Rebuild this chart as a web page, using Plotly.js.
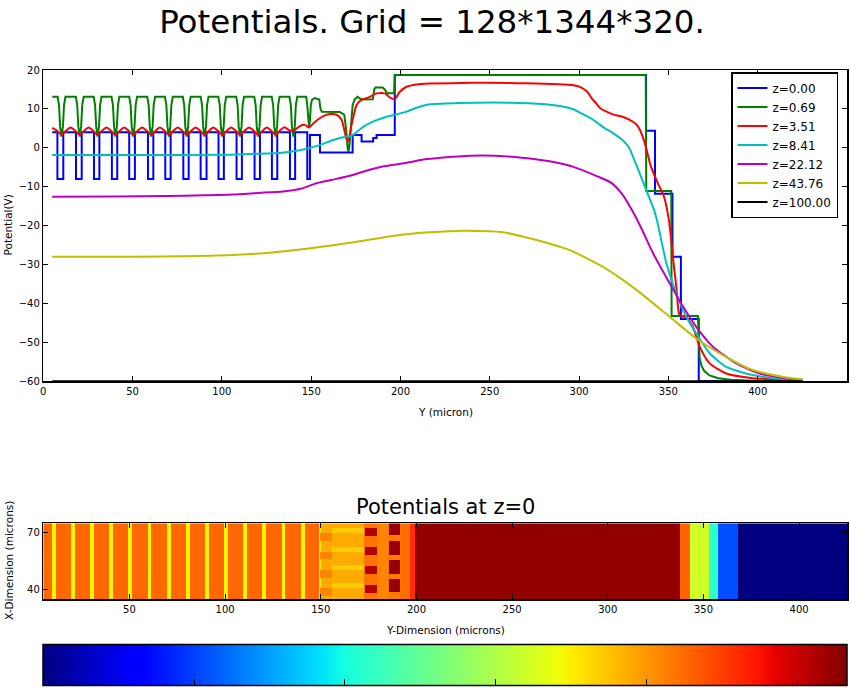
<!DOCTYPE html>
<html><head><meta charset="utf-8">
<script src="https://cdn.plot.ly/plotly-3.0.1.min.js"></script>
<style>html,body{margin:0;padding:0;background:#fff}#chart{width:851px;height:691px}</style>
</head><body><div id="chart"></div><script>
// ---------------- Line data (potential vs Y, micron) ----------------
const seriesNames = ['z=0.00','z=0.69','z=3.51','z=8.41','z=22.12','z=43.76','z=100.00'];
const seriesColors = ['#0000ff','#008000','#ff0000','#00bfbf','#bf00bf','#bfbf00','#000000'];

// z=0.00 (step profile, drawn with 'hv')
const blueX = [5, 7.9, 11.2, 18.3, 21.5, 28.4, 31.4, 38.4, 41.4, 48.1, 51.3, 58.6, 61.6, 68.3, 71.3, 78.4, 81.4, 88.1, 91.4, 98.1, 101.1, 108.2, 111.2, 118.3, 121.3, 128.0, 131.0, 138.1, 141.0, 147.8, 149.3, 154.9, 173.2, 178.2, 184.7, 186.6, 196.8, 337.5, 342.5, 352.3, 357.0, 367.0, 425];
const blueY = [4, -8, 4, -8, 4, -8, 4, -8, 4, -8, 4, -8, 4, -8, 4, -8, 4, -8, 4, -8, 4, -8, 4, -8, 4, -8, 4, -8, 4, -8, 3.3, -1.2, 3.3, 1.6, 2.5, 3.3, 18.7, 4.4, -11.8, -28, -44, -60, -60];

// z=0.69
const greenX = [5,
 8.0, 8.8, 9.4, 10.2, 11.0, 11.6, 12.4,
 18.2, 19.0, 19.6, 20.4, 21.2, 21.8, 22.6,
 28.2, 29.0, 29.6, 30.4, 31.2, 31.8, 32.6,
 38.2, 39.0, 39.6, 40.4, 41.2, 41.8, 42.6,
 48.1, 48.9, 49.5, 50.3, 51.1, 51.7, 52.5,
 58.2, 59.0, 59.6, 60.4, 61.2, 61.8, 62.6,
 68.1, 68.9, 69.5, 70.3, 71.1, 71.7, 72.5,
 78.1, 78.9, 79.5, 80.3, 81.1, 81.7, 82.5,
 88.1, 88.9, 89.5, 90.3, 91.1, 91.7, 92.5,
 98.0, 98.8, 99.4, 100.2, 101.0, 101.6, 102.4,
 108.0, 108.8, 109.4, 110.2, 111.0, 111.6, 112.4,
 118.1, 118.9, 119.5, 120.3, 121.1, 121.7, 122.5,
 127.9, 128.7, 129.3, 130.1, 130.9, 131.5, 132.3,
 137.8, 138.6, 139.2, 140.0, 140.8, 141.4, 142.2,
 147.2, 147.8, 148.3, 148.8, 149.3, 149.8, 150.5,
 152.0, 154.5, 155.2, 156.0, 162.0, 166.0, 168.5, 169.5, 170.4, 170.8, 171.3, 172.2, 173.2, 174.5, 176.0, 177.5, 180.0, 184.5, 185.3, 186.0, 190.0, 191.2, 192.5, 196.4, 196.8, 337.3, 337.6, 351.6, 351.8, 366.5, 366.9, 367.5, 368.5, 370.0, 373.0, 378.0, 385.0, 400.0, 425.0];
const greenY = [13.1,
 13.1, 11, 5.5, 2.9, 5.5, 11, 13.1,
 13.1, 11, 5.5, 2.9, 5.5, 11, 13.1,
 13.1, 11, 5.5, 2.9, 5.5, 11, 13.1,
 13.1, 11, 5.5, 2.9, 5.5, 11, 13.1,
 13.1, 11, 5.5, 2.9, 5.5, 11, 13.1,
 13.1, 11, 5.5, 2.9, 5.5, 11, 13.1,
 13.1, 11, 5.5, 2.9, 5.5, 11, 13.1,
 13.1, 11, 5.5, 2.9, 5.5, 11, 13.1,
 13.1, 11, 5.5, 2.9, 5.5, 11, 13.1,
 13.1, 11, 5.5, 2.9, 5.5, 11, 13.1,
 13.1, 11, 5.5, 2.9, 5.5, 11, 13.1,
 13.1, 11, 5.5, 2.9, 5.5, 11, 13.1,
 13.1, 11, 5.5, 2.9, 5.5, 11, 13.1,
 13.1, 11, 5.5, 2.9, 5.5, 11, 13.1,
 13.1, 11, 7, 5.2, 7, 11, 12.4,
 12.8, 12.4, 10, 9.3, 9.3, 9.2, 8.5, 5, 0, -1.0, 0, 6, 11, 12.6, 13.1, 12.6, 12.4, 12.5, 15.0, 15.5, 15.5, 15.0, 14.0, 14.0, 18.7, 18.7, -11.1, -11.1, -43.2, -43.2, -50, -54, -56, -57.3, -58.5, -59.2, -59.6, -59.9, -60];

// z=3.51
const redX = [5, 7.7, 10.2, 12.7, 15.3, 17.9, 20.4, 22.9, 25.4, 27.9, 30.4, 32.9, 35.4, 37.9, 40.4, 42.9, 45.3, 47.8, 50.3, 52.8, 55.3, 57.9, 60.4, 62.9, 65.3, 67.8, 70.3, 72.8, 75.3, 77.8, 80.3, 82.8, 85.3, 87.8, 90.3, 92.8, 95.2, 97.7, 100.2, 102.7, 105.2, 107.7, 110.2, 112.7, 115.2, 117.8, 120.3, 122.8, 125.2, 127.6, 130.1, 132.6, 135.0, 137.5, 140.0, 143.6, 146.5, 148.8, 151.0, 154.8, 158.0, 161.0, 164.2, 167.0, 169.7, 170.7, 172.6, 175.4, 178.2, 181.9, 186.6, 191.3, 194.1, 196.8, 199.6, 203.4, 209.0, 216.4, 240.0, 270.0, 296.8, 300.7, 304.6, 307.0, 309.6, 312.0, 314.5, 319.0, 324.3, 330.2, 333.1, 335.5, 337.5, 340.0, 344.0, 347.5, 350.3, 352.5, 354.5, 356.3, 360.0, 363.7, 367.5, 373.1, 382.4, 397.3, 416.0, 425.0];
const redY = [5.1, 4.4, 3.3, 4.4, 5.2, 4.4, 3.3, 4.4, 5.2, 4.4, 3.3, 4.4, 5.2, 4.4, 3.3, 4.4, 5.2, 4.4, 3.3, 4.4, 5.2, 4.4, 3.3, 4.4, 5.2, 4.4, 3.3, 4.4, 5.2, 4.4, 3.3, 4.4, 5.2, 4.4, 3.3, 4.4, 5.2, 4.4, 3.3, 4.4, 5.2, 4.4, 3.3, 4.4, 5.2, 4.4, 3.3, 4.4, 5.2, 4.4, 3.4, 4.5, 5.3, 4.6, 4.3, 5.6, 5.9, 5.2, 6.2, 7.6, 8.4, 8.7, 8.5, 7.2, 2.4, 1.7, 5.9, 11.0, 12.3, 12.9, 14.0, 14.0, 12.9, 12.5, 14.4, 15.7, 16.3, 16.5, 16.7, 16.6, 16.1, 15.6, 14.4, 12.8, 11.4, 10.1, 9.5, 8.6, 8.0, 6.7, 5.4, 3.0, 0.0, -4.5, -9.0, -12.5, -18.6, -28.0, -36.0, -43.0, -43.6, -46.0, -51.1, -55.4, -58.0, -59.2, -59.6, -59.8];

// z=8.41
const cyanX = [5, 50, 100, 115, 125, 132.5, 143.6, 154.8, 162.3, 169.7, 172.6, 179.1, 186.6, 192.2, 197.8, 203.4, 209.0, 216.4, 232.0, 260.0, 281.0, 290.0, 296.8, 301.0, 306.6, 310.0, 314.5, 319.0, 324.3, 328.0, 330.2, 333.0, 336.1, 339.0, 342.0, 343.6, 348.9, 354.4, 360.0, 365.6, 373.1, 382.4, 397.3, 416.0, 425.0];
const cyanY = [-1.85, -1.85, -1.8, -1.6, -1.45, -1.3, -0.6, 0.7, 2.0, 2.9, 3.1, 5.4, 7.1, 8.0, 8.6, 9.3, 10.3, 11.2, 11.5, 11.6, 11.2, 10.7, 9.9, 8.9, 7.6, 6.5, 5.0, 3.8, 2.0, 0.0, -2.3, -5.5, -9.1, -12.5, -16.0, -18.6, -29.7, -37.4, -43.4, -47.7, -52.8, -56.3, -58.4, -59.5, -59.7];

// z=22.12
const magentaX = [5, 40, 69, 90, 106.3, 120, 134.3, 143.6, 153, 162, 171.6, 180, 190, 202.6, 215, 232, 245.8, 260, 271.2, 285, 296.8, 310.5, 318, 324.3, 330.2, 335, 341.4, 350.7, 358.2, 365.6, 374.9, 388, 401, 416, 425];
const magentaY = [-12.6, -12.5, -12.4, -12.2, -12.0, -11.6, -11.2, -10.6, -9.1, -8.2, -7.2, -6.0, -4.8, -3.9, -2.9, -2.2, -2.0, -2.2, -2.7, -3.6, -4.9, -7.4, -9.0, -12.0, -16.5, -20.8, -27.1, -34.8, -40.8, -46.0, -51.1, -55.4, -58.0, -59.2, -59.6];

// z=43.76
const yellowX = [5, 50.4, 97, 125, 153, 177.2, 199.6, 216.4, 235, 257.4, 276.1, 294.7, 313.4, 332.1, 350.7, 365.6, 378.7, 397.3, 416, 425];
const yellowY = [-28.0, -28.0, -27.7, -27.0, -25.6, -24.0, -22.4, -21.7, -21.3, -21.7, -23.7, -26.3, -30.6, -36.5, -43.4, -49.0, -52.8, -57.1, -59.0, -59.5];

// z=100.00
const blackX = [5, 425];
const blackY = [-60, -60];

// ---------------- Heatmap data (potential at z=0, Y x X) ----------------
const hmSegStart = [5, 149.4, 155.8, 172.3, 179.6, 184.8, 191.4, 196.6, 199.2, 337.7, 343.0, 352.9, 357.7, 367.9];
const hmSegEnd   = [149.4, 155.8, 172.3, 179.6, 184.8, 191.4, 196.6, 199.2, 337.7, 343.0, 352.9, 357.7, 367.9, 425];
const hmSegValue = [4, -1.6, -1.6, 3.0, 1.6, 2.5, 3.5, 9.0, 18.7, 4.4, -11.8, -28, -44, -60];
// gate gaps (yellow stripes)
const hmGapStart = [9.5, 19.5, 29.4, 39.4, 49.4, 59.4, 69.4, 79.4, 89.4, 99.4, 109.4, 119.4, 129.4, 139.4, 149.0];
const hmGapEnd   = [11.4, 21.5, 31.4, 41.4, 51.4, 61.4, 71.4, 81.4, 91.4, 101.4, 111.4, 121.4, 131.4, 141.4, 150.0];
const hmGapValue = -8;
// 2-D features: Y range, X range, value
const hmBoxY0 = [149.4, 149.4, 149.4, 149.4, 155.8, 155.8, 155.8, 155.8, 173.2, 173.2, 173.2, 173.2, 185.3, 185.3, 185.3, 185.3];
const hmBoxY1 = [155.8, 155.8, 155.8, 155.8, 172.3, 172.3, 172.3, 172.3, 179.3, 179.3, 179.3, 179.3, 191.4, 191.4, 191.4, 191.4];
const hmBoxX0 = [65.1, 55.5, 45.8, 36.2, 69.5, 59.8, 50.2, 40.5, 68.2, 58.4, 48.4, 38.4, 68.6, 58.4, 48.4, 38.8];
const hmBoxX1 = [69.5, 59.8, 50.2, 40.5, 72.1, 62.4, 52.8, 43.2, 72.1, 62.2, 52.2, 42.4, 74.7, 65.1, 55.1, 45.3];
const hmBoxValue = [1.6, 1.6, 1.6, 1.6, -4.5, -4.5, -4.5, -4.5, 16.5, 16.5, 16.5, 16.5, 18.5, 18.5, 18.5, 18.5];

// cell grid (rendering resolution)
const gridY = [], gridX = [];
for (let i = 0; i < 840; i++) gridY.push(5.25 + 0.5 * i);
for (let j = 0; j < 80; j++) gridX.push(34.95 + 0.5 * j);

const hmZ = gridX.map(function (xv) {
  return gridY.map(function (yv) {
    let v = hmSegValue[hmSegValue.length - 1];
    for (let s = 0; s < hmSegStart.length; s++) {
      if (yv >= hmSegStart[s] && yv < hmSegEnd[s]) { v = hmSegValue[s]; break; }
    }
    for (let g = 0; g < hmGapStart.length; g++) {
      if (yv >= hmGapStart[g] && yv < hmGapEnd[g]) v = hmGapValue;
    }
    for (let b = 0; b < hmBoxValue.length; b++) {
      if (yv >= hmBoxY0[b] && yv < hmBoxY1[b] && xv >= hmBoxX0[b] && xv < hmBoxX1[b]) v = hmBoxValue[b];
    }
    return v;
  });
});

// matplotlib "jet"
const jet = [
  [0, 'rgb(0,0,128)'], [0.11, 'rgb(0,0,255)'], [0.125, 'rgb(0,0,255)'],
  [0.34, 'rgb(0,219,255)'], [0.35, 'rgb(0,230,247)'], [0.375, 'rgb(21,255,226)'],
  [0.64, 'rgb(239,255,8)'], [0.65, 'rgb(247,245,0)'], [0.66, 'rgb(255,236,0)'],
  [0.89, 'rgb(255,19,0)'], [0.91, 'rgb(232,0,0)'], [1, 'rgb(128,0,0)']
];

const lineXs = [blueX, greenX, redX, cyanX, magentaX, yellowX, blackX];
const lineYs = [blueY, greenY, redY, cyanY, magentaY, yellowY, blackY];
const shapes = ['hv', 'linear', 'spline', 'spline', 'spline', 'spline', 'linear'];

const traces = lineXs.map(function (xs, k) {
  return {
    type: 'scatter', mode: 'lines', x: xs, y: lineYs[k], name: seriesNames[k],
    xaxis: 'x', yaxis: 'y',
    line: {color: seriesColors[k], width: 2, shape: shapes[k], smoothing: 0.6}
  };
});

traces.push({
  type: 'heatmap', x: gridY, y: gridX, z: hmZ, xaxis: 'x2', yaxis: 'y2',
  colorscale: jet, zmin: -60, zmax: 20, zsmooth: false, showscale: true, hoverinfo: 'skip',
  colorbar: {
    orientation: 'h', xref: 'paper', yref: 'paper',
    x: 43.3 / 851, xanchor: 'left', y: -3 / 691, yanchor: 'bottom',
    len: 804 / 851, lenmode: 'fraction', thickness: 41, thicknessmode: 'pixels',
    xpad: 0, ypad: 0, outlinewidth: 1.5, outlinecolor: '#000',
    tickmode: 'array', tickvals: [-45, -30, -15, 0, 15], ticks: 'inside', ticklen: 7,
    tickcolor: '#000', tickwidth: 1, showticklabels: false
  }
});

const axisStyle = {
  ticks: 'inside', ticklen: 5, tickwidth: 1, tickcolor: '#000',
  showline: true, linecolor: '#000', linewidth: 1.5, mirror: 'ticks',
  showgrid: false, zeroline: false, tickfont: {size: 10, color: '#000'}
};
function ax(extra) { return Object.assign({}, axisStyle, extra); }

const xDom = [43.3 / 851, 847 / 851];
const layout = {
  width: 851, height: 691,
  margin: {l: 0, r: 0, t: 0, b: 0, autoexpand: false},
  paper_bgcolor: '#ffffff', plot_bgcolor: '#ffffff',
  font: {family: 'DejaVu Sans', size: 10, color: '#000'},
  title: {text: 'Potentials. Grid = 128*1344*320.', font: {size: 32.5, color: '#000'},
    xref: 'container', x: 432 / 851, xanchor: 'center', yref: 'container', y: 1 - 22 / 691, yanchor: 'middle'},
  showlegend: true,
  legend: {x: 731 / 851, xanchor: 'left', y: 1 - 72 / 691, yanchor: 'top', bgcolor: '#ffffff',
    bordercolor: '#000', borderwidth: 1.5, font: {size: 12, color: '#000'}},
  xaxis: ax({domain: xDom, range: [0, 450], tickmode: 'array', tickvals: [0, 50, 100, 150, 200, 250, 300, 350, 400, 450], anchor: 'y'}),
  yaxis: ax({domain: [1 - 381.3 / 691, 1 - 70 / 691], range: [-60, 20], tickmode: 'array', tickvals: [-60, -50, -40, -30, -20, -10, 0, 10, 20], anchor: 'x'}),
  xaxis2: ax({domain: xDom, range: [5, 425], tickmode: 'array', tickvals: [50, 100, 150, 200, 250, 300, 350, 400], anchor: 'y2'}),
  yaxis2: ax({domain: [1 - 599.3 / 691, 1 - 523.3 / 691], range: [34.7, 74.7], tickmode: 'array', tickvals: [40, 70], anchor: 'x2'}),
  annotations: [
    {text: 'Y (micron)', xref: 'paper', yref: 'paper', x: 445 / 851, y: 1 - 412 / 691, xanchor: 'center', yanchor: 'middle', showarrow: false, font: {size: 10.5}},
    {text: 'Potential(V)', xref: 'paper', yref: 'paper', x: 7 / 851, y: 1 - 225.5 / 691, xanchor: 'center', yanchor: 'middle', textangle: -90, showarrow: false, font: {size: 10.5}},
    {text: 'Potentials at z=0', xref: 'paper', yref: 'paper', x: 445 / 851, y: 1 - 507 / 691, xanchor: 'center', yanchor: 'middle', showarrow: false, font: {size: 21}},
    {text: 'Y-Dimension (microns)', xref: 'paper', yref: 'paper', x: 445 / 851, y: 1 - 630 / 691, xanchor: 'center', yanchor: 'middle', showarrow: false, font: {size: 10.5}},
    {text: 'X-Dimension (microns)', xref: 'paper', yref: 'paper', x: 9 / 851, y: 1 - 561 / 691, xanchor: 'center', yanchor: 'middle', textangle: -90, showarrow: false, font: {size: 10.5}}
  ]
};

Plotly.newPlot('chart', traces, layout, {staticPlot: true, displayModeBar: false});
</script></body></html>
